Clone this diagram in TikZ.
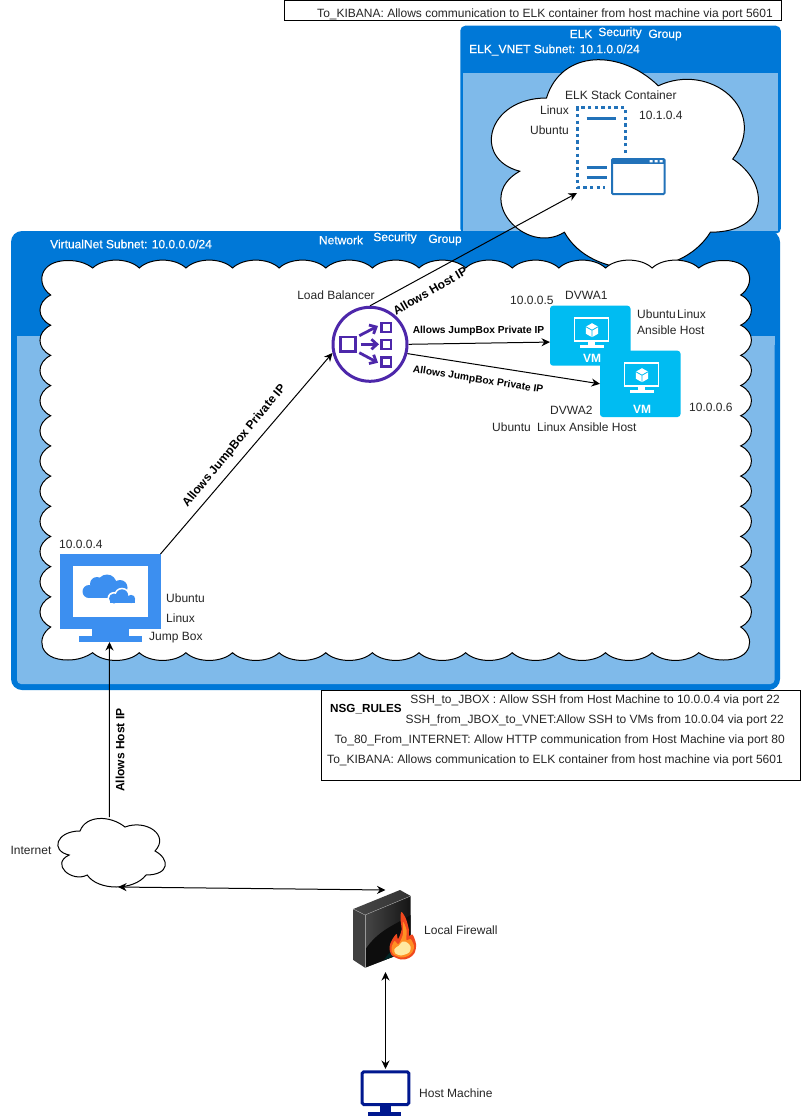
\documentclass[tikz,border=0pt]{standalone}
\usepackage{fontspec}
\setmainfont{Liberation Sans}
\newfontfamily\whitefont[FakeBold=0.45]{Liberation Sans}
\usetikzlibrary{arrows.meta}
\definecolor{azure}{HTML}{0078D7}
\definecolor{azlight}{HTML}{7FBAEA}
\definecolor{vmblue}{HTML}{00BCF2}
\definecolor{jumpblue}{HTML}{3C8FF0}
\definecolor{lbpurple}{HTML}{4D27AA}
\definecolor{elkblue}{HTML}{2272B9}
\definecolor{navyhost}{HTML}{00188F}
\definecolor{txtc}{HTML}{262626}
\definecolor{fireout}{HTML}{F0481E}
\definecolor{firemid}{HTML}{FF8F24}
\definecolor{firecore}{HTML}{FFE9A0}
\tikzset{
  txt/.style={font=\fontsize{12}{14}\selectfont,text=txtc,inner sep=0pt},
  wtxt/.style={font=\whitefont\fontsize{12}{14}\selectfont,text=white,inner sep=0pt},
  btxt/.style={font=\fontsize{12}{14}\selectfont\bfseries,text=black,inner sep=0pt},
  stxt/.style={font=\fontsize{10.2}{12}\selectfont\bfseries,text=black,inner sep=0pt},
  box/.style={inner sep=0pt,outer sep=0pt,anchor=north west},
  ghost/.style={inner sep=0pt,outer sep=0pt,draw=none,fill=none},
  link/.style={draw=black,line width=1pt,-{Stealth[length=8.5pt,width=8pt]}},
  link2/.style={draw=black,line width=1pt,{Stealth[length=8.5pt,width=8pt]}-{Stealth[length=8.5pt,width=8pt]}},
  cloudline/.style={draw=black,line width=1pt,fill=white,line join=miter},
  lbarrow/.style={draw=lbpurple,line width=2.8pt,-{Straight Barb[length=5.5pt,width=10pt]}},
}
\newcommand{\mxcloud}[4]{%
  \draw[cloudline,shift={(#1,#2)},x=#3pt,y=-#4pt]
    (0.25,0.25) .. controls (0.05,0.25) and (0,0.5) .. (0.16,0.55)
    .. controls (0,0.66) and (0.18,0.9) .. (0.31,0.8)
    .. controls (0.4,1) and (0.7,1) .. (0.8,0.8)
    .. controls (1,0.8) and (1,0.6) .. (0.875,0.5)
    .. controls (1,0.3) and (0.8,0.1) .. (0.625,0.2)
    .. controls (0.5,0.05) and (0.3,0.05) .. cycle;}
\newcommand{\vmtile}[3]{%
  \node[box,fill=vmblue,rounded corners=3pt,minimum width=80.5pt,minimum height=#3pt] (#1) at (#2) {};
  \begin{scope}[shift={(#2)}]
    \draw[white,line width=1.8pt] (24.5,12) rectangle (58.5,35);
    \fill[white] (37.5,36) rectangle (45,40);
    \fill[white] (30,39.6) rectangle (54,41.8);
    \fill[white] (42,17.5) -- (48.2,21) -- (48.2,28) -- (42,31.5) -- (35.8,28) -- (35.8,21) -- cycle;
    \draw[vmblue,line width=.8pt] (35.8,21) -- (42,24.5) -- (48.2,21) (42,24.5) -- (42,31.5);
  \end{scope}}
\begin{document}
\begin{tikzpicture}[x=1pt,y=-1pt]
\useasboundingbox (0,0) rectangle (801,1116);
\fill[white] (0,0) rectangle (801,1116);

% --- ELK group
\node[box,fill=azure,rounded corners=5pt,minimum width=320.5pt,minimum height=208pt] (elkbox) at (460.3,25.7) {};
\node[box,fill=azlight,minimum width=315.5pt,minimum height=158pt] (elkinner) at (462.7,73.3) {};
% --- main group
\node[box,fill=azure,rounded corners=11pt,minimum width=769pt,minimum height=459pt] (mainbox) at (11,231) {};
\node[box,fill=azlight,rounded corners=4pt,minimum width=757.5pt,minimum height=348pt] (maininner) at (17,336) {};
\fill[azlight] (17,336) rectangle (774.5,345);

% --- clouds
\mxcloud{472}{37}{298}{244}
\draw[cloudline]
  (92.7,268)
  \foreach \i in {0,...,12} {
    .. controls ({92.7+46.62*\i+11},257.5) and ({92.7+46.62*\i+35.6},257.5) .. ({92.7+46.62*(\i+1)},268)
  }
  .. controls (705.4,263) and (713.4,260.5) .. (723.4,260.5)
  .. controls (753.4,260) and (755.4,285) .. (740.7,295)
  \foreach \i in {0,...,10} {
    .. controls (755,{295+30.18*\i+7}) and (755,{295+30.18*\i+23}) .. (740.7,{295+30.18*(\i+1)})
  }
  .. controls (755.4,637) and (753.4,660) .. (723.4,660)
  .. controls (713.4,660) and (705.4,657) .. (698.7,652.7)
  \foreach \i in {0,...,12} {
    .. controls ({698.7-46.62*\i-11},663) and ({698.7-46.62*\i-35.6},663) .. ({698.7-46.62*(\i+1)},652.7)
  }
  .. controls (86,657) and (78,660) .. (68,660)
  .. controls (38,660) and (36,637) .. (50.7,627)
  \foreach \i in {0,...,10} {
    .. controls (36.4,{627-30.18*\i-7}) and (36.4,{627-30.18*\i-23}) .. (50.7,{627-30.18*(\i+1)})
  }
  .. controls (36,285) and (38,260.5) .. (68,260.5)
  .. controls (78,260.5) and (86,263) .. (92.7,268) -- cycle;
\mxcloud{50}{811}{120}{80}

% --- boxes with rules
\node[box,draw=black,line width=1pt,fill=white,minimum width=497pt,minimum height=20pt] (kibanabox) at (284,0.5) {};
\node[box,draw=black,line width=1pt,fill=white,minimum width=479pt,minimum height=90pt] (rulesbox) at (321,690) {};

% --- jump box icon
\node[box,ghost,minimum width=100.5pt,minimum height=88pt] (jump) at (60,554) {};
\fill[jumpblue] (60,554) rectangle (160.5,629);
\fill[jumpblue] (92,628) rectangle (129,640);
\fill[jumpblue] (79,636) rectangle (142,642);
\fill[white] (72.7,566) rectangle (148,617);
\begin{scope}
  \fill[jumpblue] (89,591.5) circle (6.5);
  \fill[jumpblue] (97,584) circle (7);
  \fill[jumpblue] (107,584) circle (9.5);
  \fill[jumpblue] (120,587.5) circle (7.5);
  \fill[jumpblue] (88,588) rectangle (127,598);
  \foreach \xc/\yc/\r in {114/598.5/5,122/595.5/6.2,131/599/4.2} {\fill[white] (\xc,\yc) circle ({\r+1.6});}
  \fill[white] (108,597) rectangle (137,604.3);
  \foreach \xc/\yc/\r in {114/598.5/5,122/595.5/6.2,131/599/4.2} {\fill[jumpblue] (\xc,\yc) circle (\r);}
  \fill[jumpblue] (109.5,598) rectangle (135.4,603);
\end{scope}

% --- load balancer
\node[circle,draw=lbpurple,line width=3pt,minimum size=74pt,inner sep=0pt,outer sep=1.5pt] (lb) at (370,344.3) {};
\draw[lbpurple,line width=2.8pt] (340.6,337) rectangle (355.4,351.5);
\draw[lbpurple,line width=2.6pt] (381.2,323) rectangle (391,331.8);
\draw[lbpurple,line width=2.6pt] (381.2,340) rectangle (391,349);
\draw[lbpurple,line width=2.6pt] (381.2,357.2) rectangle (391,366.2);
\draw[lbarrow] (359.3,335.7) -- (378,326);
\draw[lbarrow] (360.7,344.3) -- (379,344.3);
\draw[lbarrow] (359.3,352.7) -- (378,362.7);

% --- VMs
\vmtile{vmone}{550,305.7}{60}
\vmtile{vmtwo}{600,350.7}{66.3}
\node[wtxt,font=\fontsize{12}{14}\selectfont\bfseries] (vmonelbl) at (592,358) {VM};
\node[wtxt,font=\fontsize{12}{14}\selectfont\bfseries] (vmtwolbl) at (642,409) {VM};

% --- ELK container icon
\node[box,ghost,minimum width=88pt,minimum height=86pt] (elkicon) at (577,107) {};
\draw[elkblue,line width=3pt,dash pattern=on 3.4pt off 3.2pt] (625.4,153) -- (625.4,107.8) -- (577.8,107.8) -- (577.8,187.6) -- (605,187.6);
\draw[elkblue,line width=3pt] (586.7,118) -- (616,118);
\draw[elkblue,line width=3pt] (586.7,167.7) -- (606.5,167.7);
\draw[elkblue,line width=3pt] (586.7,177.7) -- (606.5,177.7);
\draw[elkblue,line width=2pt,rounded corners=1pt,fill=white] (612,159) rectangle (664.5,194);
\fill[elkblue] (612,159) rectangle (664.5,164);
\fill[white] (649.7,160) rectangle (652.7,162.4) (654.7,160) rectangle (657.7,162.4) (659.7,160) rectangle (662.7,162.4);

% --- firewall
\node[box,ghost,minimum width=63pt,minimum height=82pt] (fw) at (354,890) {};
\shade[top color=black!50!gray,bottom color=black!75] (353.3,909) -- (365,915) -- (365,967.7) -- (353.3,960) -- cycle;
\shade[left color=black!45!gray,right color=black!80] (353.3,909) -- (400,890) -- (410.7,896) -- (365,915) -- cycle;
\shade[shading angle=120,left color=black!45!gray,right color=black!92] (365,915) -- (410.7,896) -- (410.7,950) -- (365,967.7) -- cycle;
\fill[black!95] (365,950) .. controls (378,930) and (395,925) .. (410.7,915) -- (410.7,950) -- (365,967.7) -- cycle;
\fill[teal!30!black] (384,960) -- (410.7,950) -- (410.7,938) .. controls (400,945) and (390,950) .. (384,960) -- cycle;
\draw[gray!80,line width=.7pt] (365,915) -- (365,967.7);
\draw[gray!70,line width=.4pt] (353.3,909) -- (365,915) -- (410.7,896);
\fill[fireout] plot[smooth cycle,tension=.55] coordinates {(401,959.5) (391.5,955) (389.5,947) (392,940) (396.5,934) (398,939) (401.5,930) (400.5,919) (401.5,912) (406,919) (409,930) (409,936) (412.5,934.5) (416,944) (414.5,953) (409,958)};
\fill[firemid] plot[smooth cycle,tension=.55] coordinates {(401,957.5) (393,954) (391.5,948) (394.5,941) (398.5,944) (403,934) (403,922) (406.5,930) (406.5,940) (410.5,939) (414,946) (412.5,952) (408,956)};
\fill[firecore] plot[smooth cycle,tension=.6] coordinates {(401,955.5) (395.5,953.5) (394.5,949) (399,945.5) (402.5,941.5) (407,942.5) (410.5,946.5) (409.5,952) (405,954.5)};

% --- host machine
\node[box,ghost,minimum width=49.6pt,minimum height=47pt] (host) at (360.7,1069) {};
\draw[navyhost,line width=3pt,rounded corners=1.5pt,fill=white] (362.2,1071.8) rectangle (408.8,1104.5);
\fill[navyhost] (380,1105) rectangle (391,1113);
\fill[navyhost] (368,1112) rectangle (401,1115.7);

% --- invisible anchor for the Internet cloud
\node[box,ghost,minimum width=109pt,minimum height=70pt] (inet) at (58,817) {};

% --- connectors
\draw[link] (jump.north east) -- (lb.193);
\draw[link] (lb.east) -- (vmone.189);
\draw[link] (lb.-14) -- (vmtwo.west);
\draw[link] (lb.north) -- (elkicon.south west);
\draw[link] (inet.95) -- (jump.269);
\draw[link2] (inet.-81) -- (fw.north);
\draw[link2] (fw.south) -- (host.north);

% --- connector labels
\node[btxt,rotate=30] (lblHost1) at (430,291) {Allows Host IP};
\node[btxt,rotate=50.5] (lblJump1) at (234.5,446) {Allows JumpBox Private IP};
\node[stxt] (lblJump2) at (478.5,331) {Allows JumpBox Private IP};
\node[stxt,rotate=-9] (lblJump3) at (478,380) {Allows JumpBox Private IP};
\node[btxt,rotate=90] (lblHost2) at (120,750) {Allows Host IP};

% --- group labels
\node[wtxt] (elkA) at (581,34) {ELK};
\node[wtxt] (elkB) at (620,33) {Security};
\node[wtxt] (elkC) at (665,35) {Group};
\node[wtxt,anchor=west] (elkD) at (469,50) {ELK\_VNET Subnet: 10.1.0.0/24};
\node[wtxt,anchor=west] (mainD) at (50,244) {VirtualNet Subnet: 10.0.0.0/24};
\node[wtxt] (mainA) at (341,240) {Network};
\node[wtxt] (mainB) at (395,238) {Security};
\node[wtxt] (mainC) at (445,240) {Group};

% --- rule texts
\node[txt,anchor=east] (topkib) at (773,14) {To\_KIBANA: Allows communication to ELK container from host machine via port 5601};
\node[btxt,anchor=west,font=\fontsize{11.7}{14}\selectfont\bfseries] (nsg) at (330,709) {NSG\_RULES};
\node[txt,anchor=east] (ruleA) at (780,700) {SSH\_to\_JBOX : Allow SSH from Host Machine to 10.0.0.4 via port 22};
\node[txt,anchor=east] (ruleB) at (784,720) {SSH\_from\_JBOX\_to\_VNET:Allow SSH to VMs from 10.0.04 via port 22};
\node[txt,anchor=east] (ruleC) at (785,740) {To\_80\_From\_INTERNET: Allow HTTP communication from Host Machine via port 80};
\node[txt,anchor=east] (ruleD) at (783,760) {To\_KIBANA: Allows communication to ELK container from host machine via port 5601};

% --- plain labels
\node[txt,anchor=west] (t1) at (565,95) {ELK Stack Container};
\node[txt,anchor=east] (t2) at (569,110) {Linux};
\node[txt,anchor=east] (t3) at (569,130) {Ubuntu};
\node[txt,anchor=west] (t4) at (639,115) {10.1.0.4};
\node[txt] (t5) at (336,295) {Load Balancer};
\node[txt,anchor=west] (t6) at (510,300) {10.0.0.5};
\node[txt,anchor=west] (t7) at (565,295) {DVWA1};
\node[txt,anchor=west] (t8) at (637,314) {Ubuntu};
\node[txt,anchor=west] (t9) at (677,314) {Linux};
\node[txt,anchor=west] (t10) at (637,330) {Ansible Host};
\node[txt,anchor=west] (t11) at (550,410) {DVWA2};
\node[txt,anchor=west] (t12) at (492,427) {Ubuntu};
\node[txt,anchor=west] (t13) at (537,427) {Linux Ansible Host};
\node[txt,anchor=west] (t14) at (689,407) {10.0.0.6};
\node[txt,anchor=west] (t15) at (59,544) {10.0.0.4};
\node[txt,anchor=west] (t16) at (166,598) {Ubuntu};
\node[txt,anchor=west] (t17) at (166,618) {Linux};
\node[txt,anchor=west] (t18) at (149,638) {Jump Box};
\node[txt] (t19) at (31,850) {Internet};
\node[txt,anchor=west] (t20) at (424,930) {Local Firewall};
\node[txt,anchor=west] (t21) at (419,1093) {Host Machine};
\end{tikzpicture}
\end{document}
